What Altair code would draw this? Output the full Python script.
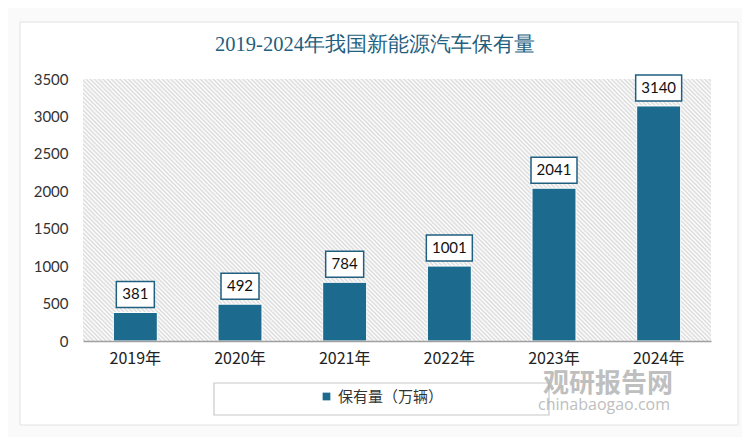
import altair as alt
import pandas as pd

years = ["2019年", "2020年", "2021年", "2022年", "2023年", "2024年"]
values = [381, 492, 784, 1001, 2041, 3140]
series_name = "保有量（万辆）"
title_text = "2019-2024年我国新能源汽车保有量"
y_ticks = [0, 500, 1000, 1500, 2000, 2500, 3000, 3500]

df = pd.DataFrame({"year": years, "value": values, "series": [series_name] * len(years)})

W, H = 628, 262
BAR = "#1c6b8e"
DARK = "#1f5f80"
FONT = "Lato"
CJK = "Noto Sans CJK SC"

# diagonal hatch pattern for the plot background, as a striped gradient
N_STRIPES = 210
stops = []
for k in range(N_STRIPES):
    stops.append(alt.GradientStop(offset=k / N_STRIPES, color="#ffffff"))
    stops.append(alt.GradientStop(offset=(k + 0.5) / N_STRIPES, color="#dadada"))
stops.append(alt.GradientStop(offset=1.0, color="#ffffff"))
hatch = alt.LinearGradient(gradient="linear", stops=stops,
                           x1=0, y1=1, x2=1.207, y2=0.4966)

x_enc = alt.X("year:N", sort=years, title=None,
              scale=alt.Scale(paddingInner=0.58, paddingOuter=0.29),
              axis=alt.Axis(labelAngle=0, labelFontSize=16, labelColor="#222222",
                            labelFont=CJK, labelPadding=9, ticks=False, zindex=2,
                            domainColor="#a0a0a0", domainWidth=1.5))
y_enc = alt.Y("value:Q", title=None,
              scale=alt.Scale(domain=[0, 3500], nice=False),
              axis=alt.Axis(values=y_ticks, labelFontSize=15, labelColor="#333333",
                            labelFont=FONT, labelPadding=15, ticks=False, domain=False,
                            grid=False, zindex=2, labelOverlap=False, format="d"))

base = alt.Chart(df)
one = "datum.year == '2019年'"

# card frame
frame = base.mark_rect(fill="white", stroke="#e2e2e2", strokeWidth=1).encode(
    x=alt.value(-63), x2=alt.value(655), y=alt.value(-57), y2=alt.value(346)
).transform_filter(one)

plotbg = base.mark_rect(fill=hatch).encode(
    x=alt.value(0), x2=alt.value(W), y=alt.value(0), y2=alt.value(H)
).transform_filter(one)

bars = base.mark_bar(stroke="white", strokeWidth=1).encode(
    x=x_enc, y=y_enc,
    color=alt.Color("series:N", scale=alt.Scale(range=[BAR]),
                    legend=alt.Legend(title=None, orient="none", legendX=236, legendY=310,
                                      symbolType="square", symbolSize=60,
                                      labelFontSize=15, labelFont=CJK,
                                      labelColor="#333333", symbolStrokeWidth=0,
                                      padding=0, labelOffset=4)),
)

path3 = "M-1.4615,-1L1.4615,-1L1.4615,1L-1.4615,1Z"
path4 = "M-1.769,-1L1.769,-1L1.769,1L-1.769,1Z"
boxes = base.mark_point(filled=False, fill="white", fillOpacity=1, stroke=DARK,
                        strokeWidth=1.5, opacity=1, size=676, yOffset=-18).encode(
    x=x_enc, y=y_enc,
    shape=alt.condition("datum.value >= 1000", alt.value(path4), alt.value(path3)),
)

labels = base.mark_text(fontSize=15, font=FONT, color="#111111", yOffset=-18,
                        baseline="middle").encode(
    x=x_enc, y=y_enc,
    text=alt.Text("value:Q"),
)

legend_box = base.mark_rect(fill=None, stroke="#c8c8c8", strokeWidth=1.2).encode(
    x=alt.value(131), x2=alt.value(466), y=alt.value(304), y2=alt.value(336)
).transform_filter(one)

title = base.mark_text(fontSize=20.5, font="Liberation Serif", color=DARK,
                       baseline="alphabetic").encode(
    x=alt.value(292), y=alt.value(-28), text=alt.value(title_text)
).transform_filter(one)

wm1 = base.mark_text(fontSize=26, font=CJK, fontWeight="bold", color="#a4a4a4",
                     opacity=0.7, baseline="alphabetic").encode(
    x=alt.value(525), y=alt.value(313), text=alt.value("观研报告网")
).transform_filter(one)
wm2 = base.mark_text(fontSize=16, font="Open Sans", color="#a4a4a4",
                     opacity=0.7, baseline="alphabetic").encode(
    x=alt.value(521), y=alt.value(331), text=alt.value("chinabaogao.com")
).transform_filter(one)

chart = alt.layer(frame, plotbg, bars, boxes, labels, legend_box, title, wm1, wm2).properties(
    width=W, height=H,
    autosize=alt.AutoSizeParams(type="none"),
    padding={"left": 75, "top": 71, "right": 31, "bottom": 96},
    background="#fafafa",
).configure_view(stroke=None)

chart.save("out.html", embed_options={"renderer": "svg", "actions": False})
